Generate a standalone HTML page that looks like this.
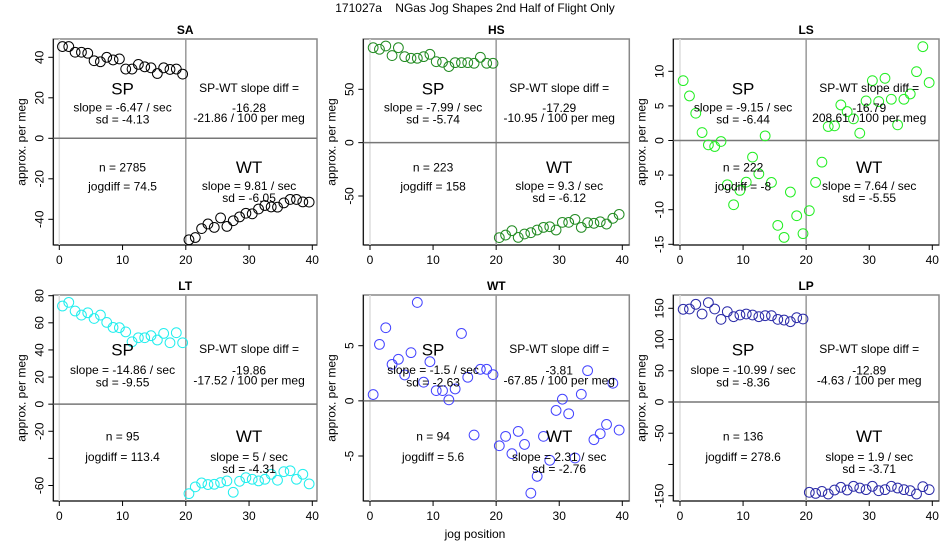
<!DOCTYPE html>
<html><head><meta charset="utf-8">
<style>
html,body{margin:0;padding:0;background:#fff;}
svg{display:block;font-family:"Liberation Sans",sans-serif;}
</style></head>
<body>
<svg id="chart" width="950" height="550" viewBox="0 0 950 550">
<text x="475" y="12" text-anchor="middle" font-size="12" style="white-space:pre">171027a    NGas Jog Shapes 2nd Half of Flight Only</text>
</svg>
<script>
const jogPositions = [0.5,1.5,2.5,3.5,4.5,5.5,6.5,7.5,8.5,9.5,10.5,11.5,12.5,13.5,14.5,15.5,16.5,17.5,18.5,19.5,20.5,21.5,22.5,23.5,24.5,25.5,26.5,27.5,28.5,29.5,30.5,31.5,32.5,33.5,34.5,35.5,36.5,37.5,38.5,39.5];
const xTicks = [0,10,20,30,40];
const panelNames = ["SA","HS","LS","LT","WT","LP"];

const saValues = [45.3,45.3,42.5,42.5,42.0,38.3,37.8,40.0,38.7,39.2,34.2,34.2,36.5,35.3,34.8,32.0,34.8,34.0,34.2,31.7,-50.1,-49.0,-44.6,-42.3,-44.0,-39.3,-43.5,-40.7,-38.8,-37.0,-37.3,-34.9,-33.2,-33.9,-34.0,-31.9,-30.2,-30.2,-31.4,-31.5];
const hsValues = [89,87.5,90.6,81.6,89,80.6,79.1,79.1,80.6,82.8,75.9,75.3,71.3,75,75,75,74.4,80,74.4,74.4,-89,-86.6,-82.5,-88.8,-85.6,-84.4,-81.9,-79.4,-78.8,-81.9,-74.7,-74.7,-71.9,-79.4,-75,-75.6,-74.1,-76.3,-70.9,-67.2];
const lsValues = [8.65,6.44,3.94,1.15,-0.63,-0.87,-0.14,-6.39,-9.28,-7.21,-6.01,-2.40,-4.81,0.67,-6.06,-12.26,-14.0,-7.45,-10.87,-13.46,-10.14,-6.06,-3.13,2.02,2.12,5.14,4.18,3.13,1.06,5.72,8.65,5.63,8.99,5.96,2.26,5.96,6.73,9.95,13.56,8.37];
const ltValues = [72.4,75.1,68.7,65.7,67.4,63.2,65.7,60.3,56.6,56.4,53.3,46.0,49.0,49.0,50.5,47.3,52.2,45.3,52.7,45.3,-66.0,-61.0,-58.1,-59.3,-59.1,-57.8,-56.6,-65.0,-56.9,-54.2,-55.4,-56.6,-55.4,-51.7,-56.1,-49.8,-49.1,-55.4,-51.7,-58.8];
const wtValues = [0.57,5.12,6.63,3.31,3.77,2.35,4.37,8.92,1.69,3.55,0.93,0.93,0.09,1.08,6.11,2.14,-3.1,2.86,2.86,2.38,-4.07,-3.22,-4.79,-2.77,-3.95,-8.37,-6.84,-3.22,-5.39,-0.87,0.15,-1.17,-5.18,0.6,2.74,-3.52,-2.98,-2.14,1.6,-2.65];
const lpValues = [148.4,148.9,156.4,140.9,159.1,148.9,132.3,144.6,136.6,139.3,140.9,139.3,136.6,138.2,138.2,132.3,131.2,128.6,135.0,132.9,-144.6,-146.3,-143.1,-147.3,-140.9,-136.6,-140.9,-135.0,-137.7,-140.3,-135.0,-142.0,-140.3,-135.0,-137.7,-140.3,-142.0,-147.3,-135.5,-140.3];

const saTicks = [40,20,0,-20,-40], saTickLabels = ["40","20","0","-20","-40"];
const hsTicks = [50,0,-50], hsTickLabels = ["50","0","-50"];
const lsTicks = [10,5,0,-5,-10,-15], lsTickLabels = ["10","5","0","-5","-10","-15"];
const ltTicks = [80,60,40,20,0,-20,-40,-60], ltTickLabels = ["80","60","40","20","0","-20","","-60"];
const wtTicks = [5,0,-5], wtTickLabels = ["5","0","-5"];
const lpTicks = [150,100,50,0,-50,-100,-150], lpTickLabels = ["150","100","50","0","-50","","-150"];

const spSlopes = ["-6.47","-7.99","-9.15","-14.86","-1.5","-10.99"];
const spSds = ["-4.13","-5.74","-6.44","-9.55","-2.63","-8.36"];
const wtSlopes = ["9.81","9.3","7.64","5","2.31","1.9"];
const wtSds = ["-6.05","-6.12","-5.55","-4.31","-2.76","-3.71"];
const slopeDiffs = ["-16.28","-17.29","-16.79","-19.86","-3.81","-12.89"];
const perMeg = ["-21.86","-10.95","208.61","-17.52","-67.85","-4.63"];
const nValues = ["2785","223","222","95","94","136"];
const jogDiffs = ["74.5","158","-8","113.4","5.6","278.6"];

const NS="http://www.w3.org/2000/svg";
const svg=document.getElementById('chart');
function mk(tag,attrs,parent){const e=document.createElementNS(NS,tag);for(const k in attrs)e.setAttribute(k,attrs[k]);(parent||svg).appendChild(e);return e;}

const cols=[{x0:53.3,x1:317,z:59.3,f:312.3},{x0:363.3,x1:629.3,z:370,f:622.3},{x0:673.3,x1:939,z:680,f:932.3}];
const rows=[{y0:39,y1:245},{y0:295,y1:501}];
const yCal=[[40,57.3,-40,219.3],[50,89.3,-50,196],[10,71.3,-15,244.3],[80,295.7,-60,485.5],[5,345.7,-5,456],[150,308.3,-150,495.7]];
const allValues=[saValues,hsValues,lsValues,ltValues,wtValues,lpValues];
const allTicks=[saTicks,hsTicks,lsTicks,ltTicks,wtTicks,lpTicks];
const allTickLabels=[saTickLabels,hsTickLabels,lsTickLabels,ltTickLabels,wtTickLabels,lpTickLabels];
const colors=["#000000","#228B22","#22ee22","#22eeee","#4444ff","#2a2aa8"];
const txtTop=[[50,68.5,80.5,49,69,79,128.5,147.5,128.5,147,159],[55,75,87.5,54,75.5,85.5,141.5,162,141.5,162,174]];

panelNames.forEach((name,i)=>{
  const c=cols[i%3], r=rows[Math.floor(i/3)], cal=yCal[i], T=txtTop[Math.floor(i/3)];
  const xs=v=>c.z+(c.f-c.z)*v/40;
  const ys=v=>cal[1]+(cal[3]-cal[1])*(v-cal[0])/(cal[2]-cal[0]);
  const g=mk('g',{});
  
  
  const t=mk('text',{x:(c.x0+c.x1)/2,y:r.y0-5,'text-anchor':'middle','font-size':12,'font-weight':'bold'},g);
  t.textContent=name;
  
  
  const bx=mk('rect',{x:c.x0,y:r.y0,width:c.x1-c.x0,height:r.y1-r.y0,fill:'none',stroke:'#888','stroke-width':1.5},g);
  
  
  mk('line',{x1:c.x0,y1:r.y0,x2:c.x0,y2:r.y1,stroke:'#000','stroke-width':1},g);
  mk('line',{x1:c.x0,y1:r.y1,x2:c.x1,y2:r.y1,stroke:'#000','stroke-width':1},g);
  mk('line',{x1:xs(0),y1:r.y0,x2:xs(0),y2:r.y1,stroke:'#ddd','stroke-width':1.5},g);
  mk('line',{x1:xs(20),y1:r.y0,x2:xs(20),y2:r.y1,stroke:'#999','stroke-width':1.5},g);
  const zl=mk('line',{x1:c.x0,y1:ys(0),x2:c.x1,y2:ys(0),stroke:'#777','stroke-width':1.5},g);
  
  
  xTicks.forEach(v=>{
    mk('line',{x1:xs(v),y1:r.y1,x2:xs(v),y2:r.y1+5,stroke:'#000'},g);
    const tl=mk('text',{x:xs(v),y:r.y1+19,'text-anchor':'middle','font-size':12},g);
    tl.textContent=v;
    
    
  });
  allTicks[i].forEach((v,k)=>{
    const py=ys(v);
    mk('line',{x1:c.x0-5,y1:py,x2:c.x0,y2:py,stroke:'#000'},g);
    const lab=allTickLabels[i][k];
    if(lab!==''){
      const tl=mk('text',{x:c.x0-10,y:py,'text-anchor':'middle','font-size':12,transform:`rotate(-90 ${c.x0-10} ${py})`},g);
      tl.textContent=lab;
      
      
    }
  });
  const yl=mk('text',{x:c.x0-28,y:(r.y0+r.y1)/2,'text-anchor':'middle','font-size':12,transform:`rotate(-90 ${c.x0-28} ${(r.y0+r.y1)/2})`},g);
  yl.textContent='approx. per meg';
  
  
  allValues[i].forEach((v,k)=>{
    const p=mk('circle',{cx:xs(jogPositions[k]),cy:ys(v),r:4.9,fill:'none',stroke:colors[i],'stroke-width':1},g);
    
    
  });
  const ann=(txt,xv,dy,size,nm)=>{
    const a=mk('text',{x:xs(xv),y:r.y0+dy,'text-anchor':'middle','dominant-baseline':'central','font-size':size},g);
    a.textContent=txt;
    
    
  };
  ann('SP',10,T[0],17,'sp-label');
  ann('slope = '+spSlopes[i]+' / sec',10,T[1],12,'sp-slope');
  ann('sd = '+spSds[i],10,T[2],12,'sp-sd');
  ann('SP-WT slope diff =',30,T[3],12,'slope-diff-label');
  ann(slopeDiffs[i],30,T[4],12,'slope-diff-value');
  ann(perMeg[i]+' / 100 per meg',30,T[5],12,'per-meg-value');
  ann('n = '+nValues[i],10,T[6],12,'n-value');
  ann('jogdiff = '+jogDiffs[i],10,T[7],12,'jogdiff-value');
  ann('WT',30,T[8],17,'wt-label');
  ann('slope = '+wtSlopes[i]+' / sec',30,T[9],12,'wt-slope');
  ann('sd = '+wtSds[i],30,T[10],12,'wt-sd');
});
const xt=mk('text',{x:475,y:538,'text-anchor':'middle','font-size':12});
xt.textContent='jog position';


</script>
</body></html>
